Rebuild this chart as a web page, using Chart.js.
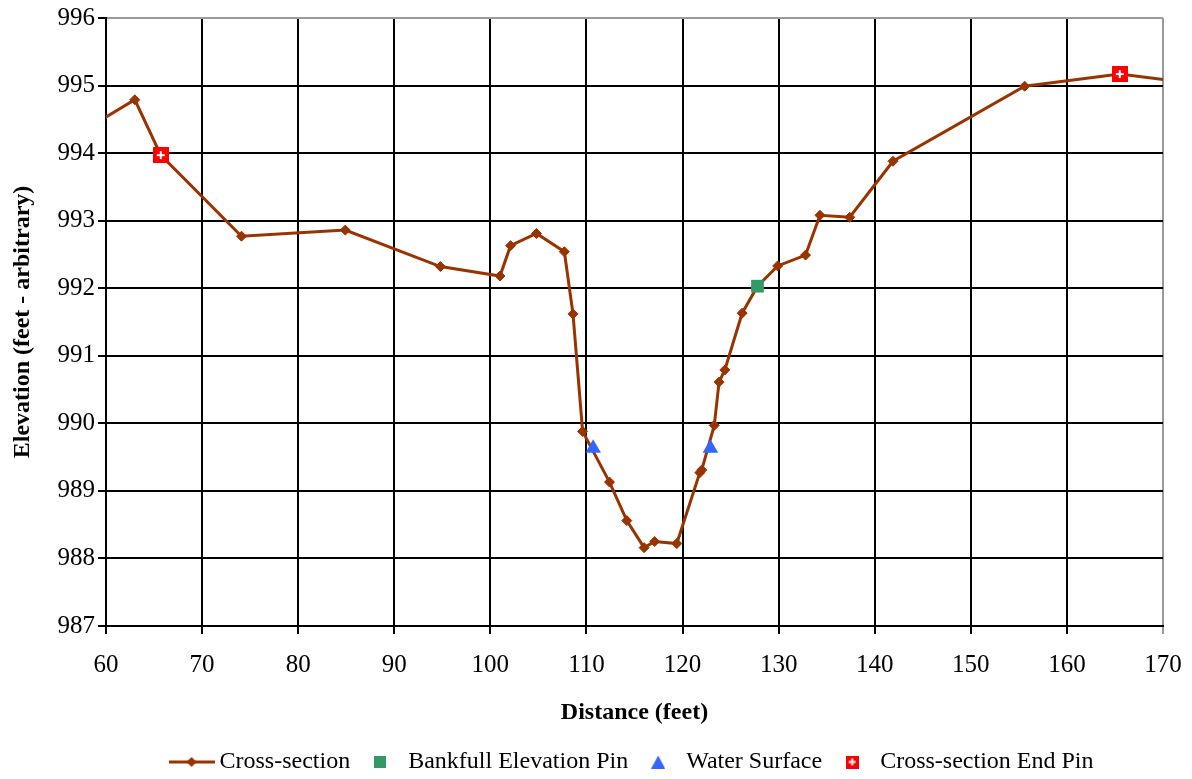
<!DOCTYPE html>
<html>
<head>
<meta charset="utf-8">
<script src="https://cdn.jsdelivr.net/npm/chart.js@4/dist/chart.umd.min.js"></script>
<style>
  html, body { margin: 0; padding: 0; background: #ffffff; }
  #wrap { width: 1192px; height: 779px; position: relative; }
</style>
</head>
<body>
<div id="wrap"><canvas id="c" width="1192" height="779"></canvas></div>
<script>
// ---- Data ----
const crossDistance = [57.0, 63.0, 65.7, 74.1, 84.9, 94.8, 101.0, 102.1, 104.8, 107.7, 108.6, 109.6, 112.4, 114.2, 116.0, 117.1, 119.4, 121.8, 122.0, 123.3, 123.8, 124.4, 126.2, 127.8, 129.9, 132.8, 134.3, 137.4, 141.9, 155.6, 165.5, 175.0];
const crossElevation = [994.28, 994.79, 993.97, 992.77, 992.86, 992.32, 992.18, 992.63, 992.81, 992.54, 991.62, 989.88, 989.13, 988.56, 988.16, 988.25, 988.22, 989.27, 989.31, 989.97, 990.61, 990.79, 991.63, 992.03, 992.33, 992.49, 993.08, 993.05, 993.88, 994.99, 995.17, 995.00];
const bankfullDistance = [127.8];
const bankfullElevation = [992.03];
const waterDistance = [110.7, 122.9];
const waterElevation = [989.63, 989.63];
const endPinDistance = [65.7, 165.5];
const endPinElevation = [993.97, 995.17];
const seriesNames = ['Cross-section', 'Bankfull Elevation Pin', 'Water Surface', 'Cross-section End Pin'];
const xTickValues = [60, 70, 80, 90, 100, 110, 120, 130, 140, 150, 160, 170];
const yTickValues = [987, 988, 989, 990, 991, 992, 993, 994, 995, 996];

const BROWN = '#993300', GREEN = '#339966', BLUE = '#3366FF', RED = '#FF0000';
const FONT = 'Liberation Serif, "Times New Roman", serif';

function pts(xs, ys) { return xs.map((x, i) => ({ x: x, y: ys[i] })); }

// ---- marker / legend icon images ----
function makeCanvas(w, h, draw) {
  const c = document.createElement('canvas');
  c.width = w; c.height = h;
  draw(c.getContext('2d'), w, h);
  return c;
}
const pinMarker = makeCanvas(16, 16, (g, w, h) => {
  g.fillStyle = RED; g.fillRect(0, 0, w, h);
  g.fillStyle = '#ffffff';
  g.fillRect(4, 7, 8, 2); g.fillRect(7, 4, 2, 8);
});
const legendCross = makeCanvas(46, 12, (g, w, h) => {
  g.strokeStyle = BROWN; g.lineWidth = 3;
  g.beginPath(); g.moveTo(0, 6); g.lineTo(w, 6); g.stroke();
  g.fillStyle = BROWN;
  g.beginPath(); g.moveTo(23, 1); g.lineTo(28, 6); g.lineTo(23, 11); g.lineTo(18, 6); g.closePath(); g.fill();
});
const legendBank = makeCanvas(12, 12, (g, w, h) => { g.fillStyle = GREEN; g.fillRect(0, 0, w, h); });
const legendWater = makeCanvas(14, 13, (g, w, h) => {
  g.fillStyle = BLUE; g.beginPath(); g.moveTo(7, 0); g.lineTo(14, 13); g.lineTo(0, 13); g.closePath(); g.fill();
});
const legendPin = makeCanvas(13, 13, (g, w, h) => {
  g.fillStyle = RED; g.fillRect(0, 0, w, h);
  g.fillStyle = '#ffffff';
  g.fillRect(3, 5.5, 7, 2); g.fillRect(5.5, 3, 2, 7);
});
const legendIcons = [legendCross, legendBank, legendWater, legendPin];

const gridColor = (edgeValue) => (ctx) => (ctx.tick && ctx.tick.value === edgeValue) ? '#9a9a9a' : '#000000';

new Chart(document.getElementById('c'), {
  type: 'scatter',
  data: {
    datasets: [
      {
        label: seriesNames[0], data: pts(crossDistance, crossElevation), showLine: true,
        borderColor: BROWN, backgroundColor: BROWN, borderWidth: 3,
        pointStyle: 'rectRot', pointRadius: 5, pointBorderWidth: 1, pointBorderColor: BROWN, pointBackgroundColor: BROWN,
        tension: 0, order: 4
      },
      {
        label: seriesNames[1], data: pts(bankfullDistance, bankfullElevation),
        pointStyle: 'rect', pointRadius: 9, pointBorderWidth: 0, backgroundColor: GREEN, borderColor: GREEN, order: 1
      },
      {
        label: seriesNames[2], data: pts(waterDistance, waterElevation),
        pointStyle: 'triangle', pointRadius: 9, pointBorderWidth: 0, backgroundColor: BLUE, borderColor: BLUE, order: 2
      },
      {
        label: seriesNames[3], data: pts(endPinDistance, endPinElevation),
        pointStyle: pinMarker, pointRadius: 8, backgroundColor: RED, borderColor: RED, order: 0
      }
    ]
  },
  options: {
    responsive: false,
    animation: false,
    events: [],
    layout: { padding: { left: 0, right: 29, top: 16, bottom: -5 } },
    plugins: {
      tooltip: { enabled: false },
      legend: {
        position: 'bottom',
        fullSize: false,
        labels: {
          usePointStyle: true,
          pointStyleWidth: 32,
          padding: 14,
          color: '#000',
          font: { family: FONT, size: 24 },
          sort: (a, b) => a.datasetIndex - b.datasetIndex,
          generateLabels: (chart) => chart.data.datasets.map((ds, i) => ({
            text: ds.label, datasetIndex: i, pointStyle: legendIcons[i],
            fillStyle: ds.backgroundColor, strokeStyle: ds.borderColor, lineWidth: 0, hidden: false, fontColor: '#000'
          }))
        }
      }
    },
    scales: {
      x: {
        type: 'linear', min: 60, max: 170,
        afterFit: (s) => { s.height = 110; s.paddingRight = 0; s.paddingLeft = 0; },
        afterBuildTicks: (s) => { s.ticks = xTickValues.map(v => ({ value: v })); },
        ticks: { color: '#000', font: { family: FONT, size: 25 }, padding: 16, maxRotation: 0, autoSkip: false },
        grid: { color: gridColor(170), tickColor: gridColor(170), lineWidth: 2, tickLength: 8 },
        border: { color: '#000', width: 2 },
        title: { display: true, text: 'Distance (feet)', color: '#000', font: { family: FONT, size: 24, weight: 'bold' }, padding: { top: 0, bottom: 9 } }
      },
      y: {
        type: 'linear', min: 987, max: 996,
        afterFit: (s) => { s.width = 106; },
        afterBuildTicks: (s) => { s.ticks = yTickValues.map(v => ({ value: v })); },
        ticks: { color: '#000', font: { family: FONT, size: 25 }, padding: 3, autoSkip: false, callback: (v) => String(v) },
        grid: { color: gridColor(996), tickColor: '#000', lineWidth: 2, tickLength: 8 },
        border: { color: '#000', width: 2 },
        title: { display: true, text: 'Elevation (feet - arbitrary)', color: '#000', font: { family: FONT, size: 24, weight: 'bold' }, padding: { top: 8, bottom: 0 } }
      }
    }
  }
});
</script>
</body>
</html>
